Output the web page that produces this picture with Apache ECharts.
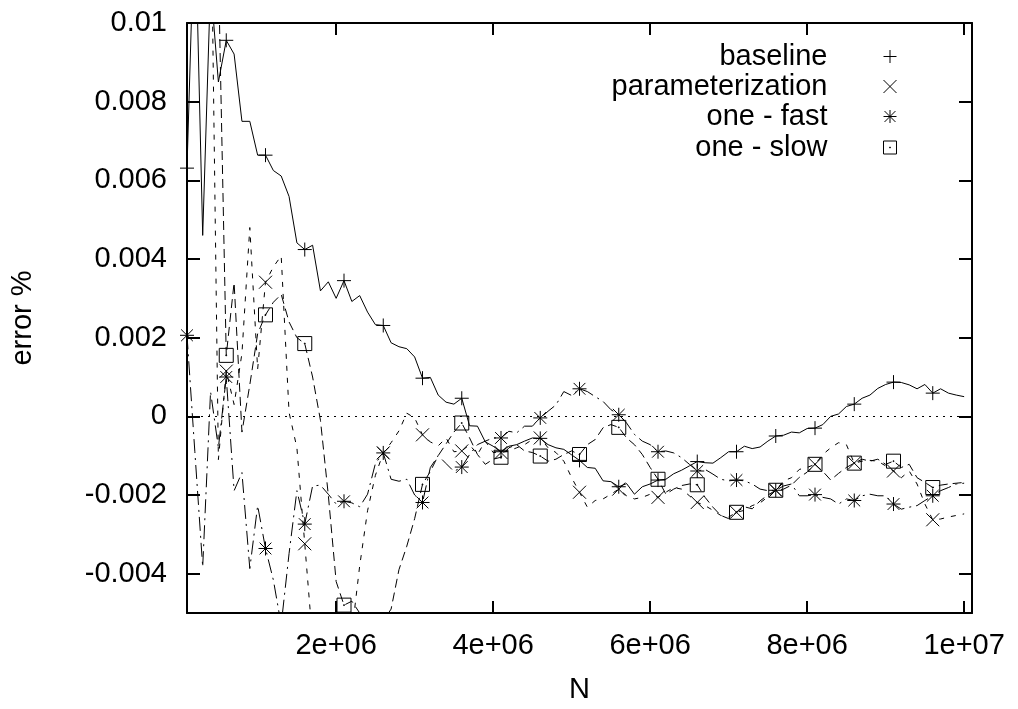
<!DOCTYPE html>
<html>
<head>
<meta charset="utf-8">
<script src="https://cdn.jsdelivr.net/npm/echarts@6/dist/echarts.min.js"></script>
<style>
html,body{margin:0;padding:0;background:#fff;}
#chart{width:1018px;height:709px;}
</style>
</head>
<body>
<div id="chart"></div>
<script>
// N sampling of the data (first sample and spacing)
const N_START = 100000;
const N_STEP = 100000;

// error values, in units of 1e-3
const baseline = [
  6.31, 13.0, 4.6, 11.0, 8.5, 9.56, 9.21, 7.5, 7.5, 6.64,
  6.64, 6.25, 6.11, 5.59, 4.41, 4.24, 4.35, 3.19, 3.42, 3.00,
  3.45, 2.92, 3.07, 2.65, 2.33, 2.31, 1.87, 1.77, 1.72, 1.51,
  0.97, 0.99, 0.54, 0.36, 0.31, 0.46, -0.24, -0.25, -0.65, -0.76,
  -0.90, -0.76, -0.72, -0.63, -0.55, -0.56, -0.72, -0.80, -0.84, -0.98,
  -1.12, -1.30, -1.32, -1.64, -1.66, -1.79, -1.71, -1.98, -1.79, -1.72,
  -1.62, -1.60, -1.46, -1.37, -1.26, -1.15, -1.18, -1.19, -1.05, -0.90,
  -0.90, -0.76, -0.82, -0.78, -0.63, -0.50, -0.48, -0.40, -0.42, -0.31,
  -0.30, -0.21, 0.00, 0.06, 0.25, 0.31, 0.46, 0.54, 0.71, 0.81,
  0.87, 0.86, 0.80, 0.70, 0.81, 0.59, 0.70, 0.59, 0.54, 0.50
];
const parameterization = [
  15, 16, 14, 14, -1.1, 1.15, 0.3, 1.6, 4.8, 1.2,
  3.41, 3.8, 4.08, 0.1, -0.8, -3.24, -5.7, -6.5, -6.8, -6.6,
  -6.5, -5.5, -3.8, -2.4, -1.5, -0.93, -0.67, -0.37, 0.08, -0.04,
  -0.47, -0.65, -0.75, -0.55, -0.9, -0.88, -0.72, -0.97, -0.63, -0.92,
  -0.92, -0.88, -0.80, -0.72, -0.59, -0.55, -0.80, -0.92, -1.14, -1.56,
  -1.93, -2.31, -2.14, -2.10, -1.98, -1.85, -2.02, -2.10, -2.06, -1.98,
  -2.06, -1.93, -1.81, -1.85, -2.02, -2.19, -2.27, -2.39, -2.52, -2.56,
  -2.44, -2.39, -2.27, -2.20, -2.05, -1.88, -1.64, -1.56, -1.35, -1.30,
  -1.22, -0.97, -0.80, -0.67, -0.72, -1.19, -1.14, -1.12, -1.14, -1.26,
  -1.39, -1.56, -1.39, -1.72, -2.23, -2.63, -2.61, -2.56, -2.52, -2.48
];
const oneFast = [
  2.06, -0.9, -3.83, 0.63, -0.8, 1.0, -1.89, -1.43, -3.87, -2.27,
  -3.36, -4.16, -5.3, -3.49, -1.89, -2.74, -1.77, -1.75, -1.98, -2.23,
  -2.16, -2.20, -2.30, -1.98, -1.20, -0.93, -1.60, -1.65, -1.60, -2.00,
  -2.19, -1.30, -1.00, -1.20, -1.40, -1.29, -0.97, -0.72, -0.63, -0.55,
  -0.55, -0.38, -0.42, -0.25, -0.25, -0.04, 0.13, 0.29, 0.63, 0.53,
  0.70, 0.63, 0.50, 0.38, 0.17, 0.04, -0.17, -0.46, -0.63, -0.72,
  -0.90, -0.88, -0.93, -1.05, -1.22, -1.39, -1.35, -1.47, -1.60, -1.64,
  -1.62, -1.64, -1.72, -1.85, -1.89, -1.88, -1.77, -1.72, -2.02, -2.02,
  -1.99, -2.06, -2.10, -2.23, -2.10, -2.14, -2.02, -1.98, -2.02, -2.02,
  -2.23, -2.36, -2.31, -2.27, -2.14, -2.02, -1.89, -1.81, -1.72, -1.70
];
const oneSlow = [
  13, 14, 15, 14, 11.4, 1.55, 3.4, -0.4, 0.8, 2.1,
  2.58, 2.9, 3.1, 2.4, 2.0, 1.85, 1.0, -0.1, -2.0, -4.2,
  -4.8, -4.7, -5.0, -5.4, -5.5, -5.2, -4.9, -3.9, -3.3, -2.6,
  -1.73, -1.40, -1.00, -0.70, -0.40, -0.17, -0.55, -0.97, -1.22, -1.09,
  -1.04, -0.80, -0.72, -0.88, -0.92, -1.01, -1.14, -1.09, -0.97, -0.88,
  -0.97, -0.72, -0.59, -0.29, -0.21, -0.28, -0.55, -0.72, -0.97, -1.30,
  -1.60, -1.98, -1.85, -1.76, -1.72, -1.74, -2.06, -2.31, -2.52, -2.60,
  -2.44, -2.30, -2.35, -2.15, -2.00, -1.88, -1.85, -1.75, -1.55, -1.42,
  -1.22, -1.40, -1.62, -1.45, -1.30, -1.19, -1.09, -1.14, -1.09, -1.22,
  -1.14, -1.30, -1.22, -1.56, -1.68, -1.81, -1.75, -1.72, -1.70, -1.68
];

const seriesNames = ['baseline', 'parameterization', 'one - fast', 'one - slow'];
const xTicks = [2e6, 4e6, 6e6, 8e6, 1e7];
const xTickLabels = ['2e+06', '4e+06', '6e+06', '8e+06', '1e+07'];
const yTicks = [-0.004, -0.002, 0, 0.002, 0.004, 0.006, 0.008, 0.01];
const yTickLabels = ['-0.004', '-0.002', '0', '0.002', '0.004', '0.006', '0.008', '0.01'];

const FONT = "'Liberation Sans', Arial, Helvetica, sans-serif";
const FS = 29;
const SYM_PLUS = 'path://M0,7L14,7M7,0L7,14';
const SYM_CROSS = 'path://M0,0L10,10M10,0L0,10';
const SYM_STAR = 'path://M0,5L10,5M5,0L5,10M0.8,0.8L9.2,9.2M9.2,0.8L0.8,9.2';
const SYM_BOX = 'path://M0,0L10,0L10,10L0,10ZM4.7,4.7L5.3,4.7L5.3,5.3L4.7,5.3Z';
const symbols = [SYM_PLUS, SYM_CROSS, SYM_STAR, SYM_BOX];
const symbolSizes = [14, 13, 14, 14];
const dashes = ['solid', [5, 7], [14, 5, 2, 5], [9, 5]];

function labelFor(ticks, labels) {
  return function (v) {
    for (let k = 0; k < ticks.length; k++) {
      if (Math.abs(ticks[k] - v) < Math.abs(ticks[k]) * 1e-6 + 1e-12) return labels[k];
    }
    return '';
  };
}

function build(arr) {
  return arr.map(function (v, i) {
    const item = { value: [N_START + i * N_STEP, v / 1000] };
    if (i % 5 !== 0) item.symbol = 'none';
    return item;
  });
}

const xMin = 100000, xMax = 10100000, yMin = -0.005, yMax = 0.01;
const axisLineStyle = { color: '#000', width: 2 };
const tickStyle = { color: '#000', width: 2 };
const labelStyle = { color: '#000', fontSize: FS, fontFamily: FONT };

const allData = [baseline, parameterization, oneFast, oneSlow];
const series = allData.map(function (arr, k) {
  const s = {
    name: seriesNames[k],
    type: 'line',
    xAxisIndex: 0,
    yAxisIndex: 0,
    data: build(arr),
    symbol: symbols[k],
    symbolSize: symbolSizes[k],
    showSymbol: true,
    showAllSymbol: true,
    clip: true,
    silent: true,
    animation: false,
    emphasis: { disabled: true },
    lineStyle: { color: '#000', width: 1, type: dashes[k] },
    itemStyle: { color: 'rgba(0,0,0,0)', borderColor: '#000', borderWidth: 1 },
    z: 2 + k
  };
  if (k === 0) {
    s.markLine = {
      silent: true,
      symbol: ['none', 'none'],
      label: { show: false },
      animation: false,
      lineStyle: { color: '#000', width: 1, type: [2, 5] },
      data: [{ yAxis: 0 }]
    };
  }
  return s;
});

const legendTops = [42, 72, 102, 133];
const legends = seriesNames.map(function (nm, k) {
  return {
    data: [{ name: nm, icon: symbols[k] }],
    orient: 'vertical',
    align: 'right',
    right: 121,
    top: legendTops[k],
    padding: 0,
    itemWidth: 13,
    itemHeight: 13,
    selectedMode: false,
    itemStyle: { color: 'rgba(0,0,0,0)', borderColor: '#000', borderWidth: 1 },
    textStyle: { color: '#000', fontSize: FS, fontFamily: FONT, padding: [0, 51, 0, 0] }
  };
});

const chart = echarts.init(document.getElementById('chart'), null, { renderer: 'canvas' });
chart.setOption({
  animation: false,
  backgroundColor: '#fff',
  grid: { left: 186, top: 23, width: 786, height: 593 },
  legend: legends,
  xAxis: [
    {
      type: 'value', min: xMin, max: xMax, position: 'bottom',
      axisLine: { show: true, onZero: false, lineStyle: axisLineStyle },
      axisTick: { show: true, inside: true, length: 12, customValues: xTicks, lineStyle: tickStyle },
      axisLabel: Object.assign({ customValues: xTicks, margin: 18, formatter: labelFor(xTicks, xTickLabels) }, labelStyle),
      splitLine: { show: false },
      name: 'N', nameLocation: 'middle', nameGap: 62,
      nameTextStyle: { color: '#000', fontSize: FS, fontFamily: FONT }
    },
    {
      type: 'value', min: xMin, max: xMax, position: 'top',
      axisLine: { show: true, onZero: false, lineStyle: axisLineStyle },
      axisTick: { show: true, inside: true, length: 12, customValues: xTicks, lineStyle: tickStyle },
      axisLabel: { show: false },
      splitLine: { show: false }
    }
  ],
  yAxis: [
    {
      type: 'value', min: yMin, max: yMax, position: 'left',
      axisLine: { show: true, onZero: false, lineStyle: axisLineStyle },
      axisTick: { show: true, inside: true, length: 13, customValues: yTicks, lineStyle: tickStyle },
      axisLabel: Object.assign({ customValues: yTicks, margin: 20, formatter: labelFor(yTicks, yTickLabels) }, labelStyle),
      splitLine: { show: false },
      name: 'error %', nameLocation: 'middle', nameGap: 150,
      nameTextStyle: { color: '#000', fontSize: FS, fontFamily: FONT }
    },
    {
      type: 'value', min: yMin, max: yMax, position: 'right',
      axisLine: { show: true, onZero: false, lineStyle: axisLineStyle },
      axisTick: { show: true, inside: true, length: 13, customValues: yTicks, lineStyle: tickStyle },
      axisLabel: { show: false },
      splitLine: { show: false }
    }
  ],
  series: series
});
</script>
</body>
</html>
